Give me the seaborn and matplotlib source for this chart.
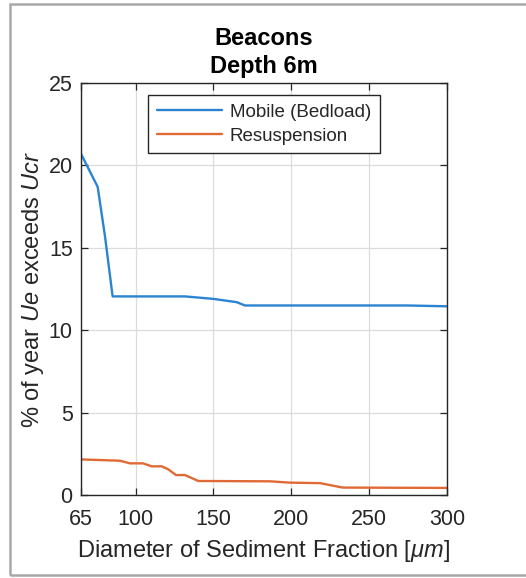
import matplotlib
matplotlib.use("Agg")
import matplotlib.pyplot as plt
import seaborn as sns
import pandas as pd
from matplotlib.patches import Rectangle

# Exceedance curves vs sediment grain diameter
mobile_x = [65, 75.7, 80.4, 85.3, 131.8, 150, 165, 170.3, 275, 300]
mobile_y = [20.7, 18.7, 15.7, 12.05, 12.05, 11.9, 11.7, 11.5, 11.5, 11.45]

resus_x = [65, 90, 96.5, 104.8, 110.4, 116.8, 121, 126, 131.8, 140.3,
           186.4, 199, 218.5, 233, 300]
resus_y = [2.16, 2.08, 1.92, 1.92, 1.74, 1.74, 1.56, 1.21, 1.21, 0.85,
           0.83, 0.75, 0.72, 0.45, 0.43]

series_names = ["Mobile (Bedload)", "Resuspension"]
x_ticks = [65, 100, 150, 200, 250, 300]
y_ticks = [0, 5, 10, 15, 20, 25]

df = pd.DataFrame({
    "diameter": mobile_x + resus_x,
    "percent": mobile_y + resus_y,
    "series": [series_names[0]] * len(mobile_x) + [series_names[1]] * len(resus_x),
})

sns.set_theme(style="white")
plt.rcParams["font.family"] = ["Liberation Sans", "DejaVu Sans"]
plt.rcParams["mathtext.fontset"] = "custom"
plt.rcParams["mathtext.rm"] = "Liberation Sans"
plt.rcParams["mathtext.it"] = "Liberation Sans:italic"
plt.rcParams["mathtext.bf"] = "Liberation Sans:bold"

dark = "#262626"
fig = plt.figure(figsize=(5.26, 5.78), dpi=100)
ax = fig.add_axes([81 / 526, 1 - 495 / 578, (447 - 81) / 526, (495 - 83) / 578])

sns.lineplot(data=df, x="diameter", y="percent", hue="series",
             palette=["#2a84d2", "#e06a35"], linewidth=1.7, ax=ax,
             estimator=None)

ax.set_xlim(65, 300)
ax.set_ylim(0, 25)
ax.set_xticks(x_ticks)
ax.set_yticks(y_ticks)
ax.grid(True, color="#dcdcdc", linewidth=0.9)
ax.set_axisbelow(True)
for s in ax.spines.values():
    s.set_color(dark)
    s.set_linewidth(1.0)
ax.tick_params(direction="in", length=5, width=0.9, colors=dark,
               labelsize=15.5, top=True, right=True, bottom=True, left=True,
               labelcolor=dark)
ax.tick_params(axis="x", pad=10)
ax.tick_params(axis="y", pad=6)

ax.set_xlabel(r"Diameter of Sediment Fraction [$\mu m$]", fontsize=17, color=dark, labelpad=6)
ax.set_ylabel(r"% of year $Ue$ exceeds $Ucr$", fontsize=17, color=dark, labelpad=2)
ax.set_title("Beacons\nDepth 6m", fontsize=17, fontweight="bold", color="black",
             linespacing=1.3, pad=7)

leg = ax.legend(loc="upper center", bbox_to_anchor=(0.5, 0.971), fontsize=13.5,
                frameon=True, fancybox=False, edgecolor=dark, framealpha=1,
                handlelength=3.5, borderpad=0.45, labelspacing=0.38,
                handletextpad=0.4, borderaxespad=0)
leg.get_frame().set_linewidth(1.0)
for t in leg.get_texts():
    t.set_color(dark)

# light gray frame around the figure
fig.patches.append(Rectangle((10 / 526, 1 - 575 / 578), 1.2, (575 - 4) / 578,
                             transform=fig.transFigure, fill=False,
                             edgecolor="#a8a8a8", linewidth=1.8))

fig.savefig("out.png", dpi=100)
